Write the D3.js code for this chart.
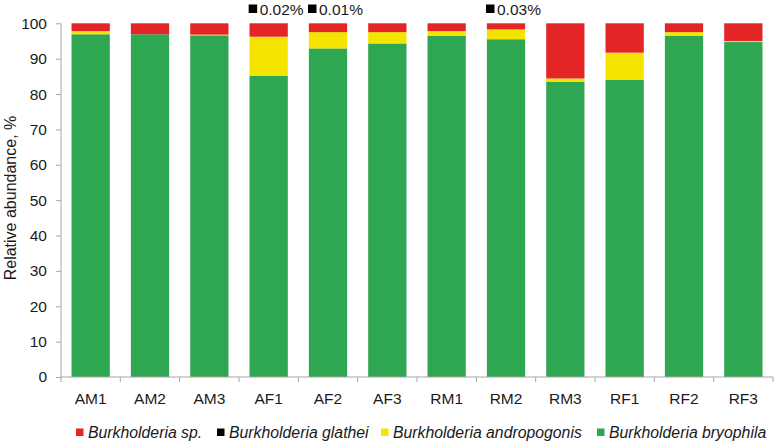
<!DOCTYPE html>
<html><head><meta charset="utf-8">
<script src="https://cdn.jsdelivr.net/npm/d3@7"></script>
<style>body{margin:0;background:#fff}svg{display:block;font-family:"Liberation Sans",Arial,sans-serif}</style>
</head><body><svg id="c" width="779" height="442"></svg>
<script>
const categories = ["AM1","AM2","AM3","AF1","AF2","AF3","RM1","RM2","RM3","RF1","RF2","RF3"];
const bryophila    = [96.9,96.9,96.6,85.1,92.9,94.3,96.5,95.5,83.4,84.0,96.5,94.7];
const andropogonis = [0.9,0.0,0.2,11.1,4.6,3.2,1.3,2.8,1.0,7.7,1.0,0.3];
const glathei      = [0,0,0,0.02,0.01,0,0,0.03,0,0,0,0];
const spp          = [2.2,3.1,3.2,3.78,2.49,2.5,2.2,1.67,15.6,8.3,2.5,5.0];
const yTicks = [0,10,20,30,40,50,60,70,80,90,100];
const annotations = [{cat:"AF1",label:"0.02%"},{cat:"AF2",label:"0.01%"},{cat:"RM2",label:"0.03%"}];
const seriesNames = ["Burkholderia bryophila","Burkholderia andropogonis","Burkholderia glathei","Burkholderia sp."];
const seriesVals = [bryophila, andropogonis, glathei, spp];
const colors = ["#2EA652","#F4E400","#000000","#E32526"];
const legendOrder = [3,2,1,0];

const svg = d3.select("#c");
const x = d3.scaleBand().domain(categories).range([61,773]).paddingInner(0.355).paddingOuter(0.1775);
const y = d3.scaleLinear().domain([0,100]).range([377,23.3]);

const rows = categories.map((c,i)=>{const r={cat:c}; seriesNames.forEach((s,j)=>r[s]=seriesVals[j][i]); return r;});
const stack = d3.stack().keys(seriesNames)(rows);

svg.append("g").selectAll("g").data(stack).join("g")
  .attr("fill",(d,i)=>colors[i])
  .selectAll("rect").data(d=>d).join("rect")
  .attr("x",d=>x(d.data.cat)).attr("width",x.bandwidth())
  .attr("y",d=>y(d[1])).attr("height",d=>Math.max(0,y(d[0])-y(d[1])));

// y axis
const ya = svg.append("g").attr("transform","translate(61,0)")
  .call(d3.axisLeft(y).tickValues(yTicks).tickSize(5).tickPadding(9));
ya.select(".domain").attr("stroke","#a6a6a6").attr("d","M0,"+y(0)+"V"+y(100));
ya.selectAll(".tick line").attr("stroke","#a6a6a6");
ya.selectAll("text").attr("font-size",15.5).attr("fill","#1a1a1a").attr("font-family","Liberation Sans, Arial, sans-serif");

// x axis
const xa = svg.append("g").attr("transform","translate(0,"+y(0)+")");
xa.append("line").attr("x1",61).attr("x2",773).attr("stroke","#a6a6a6");
d3.range(categories.length+1).forEach(i=>{
  const xx = 61 + i*(712/categories.length);
  xa.append("line").attr("x1",xx).attr("x2",xx).attr("y1",0).attr("y2",5).attr("stroke","#a6a6a6");
});
xa.selectAll("text.cat").data(categories).join("text").attr("class","cat")
  .attr("x",d=>x(d)+x.bandwidth()/2).attr("y",26.5).attr("text-anchor","middle")
  .attr("font-size",15.5).attr("fill","#1a1a1a").text(d=>d);

// y title
svg.append("text").attr("transform","translate(16,198) rotate(-90)").attr("text-anchor","middle")
  .attr("font-size",16).attr("fill","#1a1a1a").text("Relative abundance, %");

// annotations
const ann = svg.append("g").selectAll("g").data(annotations).join("g")
  .attr("transform",d=>"translate("+(x(d.cat)+x.bandwidth()/2)+",9)");
ann.append("rect").attr("x",-20).attr("y",-4.5).attr("width",8.5).attr("height",8.5).attr("fill","#000");
ann.append("text").attr("x",-9).attr("y",5.5).attr("font-size",15.5).attr("fill","#1a1a1a").text(d=>d.label);

// legend
const legX = [76,217,381,597];
const lg = svg.append("g").selectAll("g").data(legendOrder).join("g")
  .attr("transform",(d,i)=>"translate("+legX[i]+",432)");
lg.append("rect").attr("x",0).attr("y",-3.5).attr("width",7.5).attr("height",7.5).attr("fill",d=>colors[d]);
lg.append("text").attr("x",12).attr("y",5.5).attr("font-size",15.8).attr("font-style","italic").attr("fill","#1a1a1a").text(d=>seriesNames[d]);
</script></body></html>
